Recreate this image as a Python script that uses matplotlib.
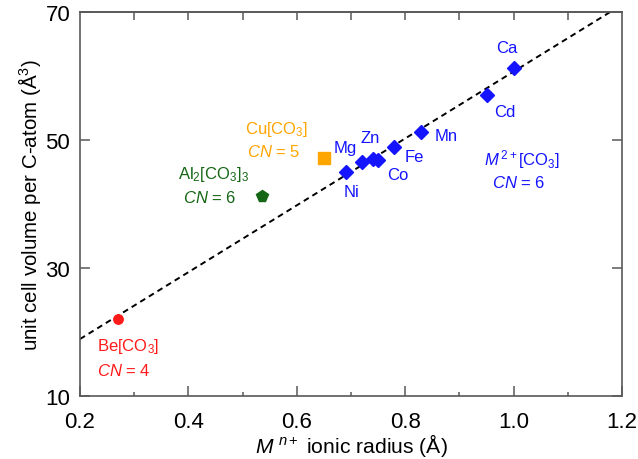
import numpy as np
import matplotlib
matplotlib.use("Agg")
import matplotlib.pyplot as plt

plt.rcParams['font.family'] = ['Liberation Sans', 'DejaVu Sans']
plt.rcParams['mathtext.fontset'] = 'custom'
plt.rcParams['mathtext.rm'] = 'Liberation Sans'
plt.rcParams['mathtext.it'] = 'Liberation Sans:italic'

# M2+[CO3], CN = 6
m2_names = ["Ni", "Mg", "Zn", "Co", "Fe", "Mn", "Cd", "Ca"]
m2_radius = [0.69, 0.72, 0.74, 0.75, 0.78, 0.83, 0.95, 1.00]
m2_volume = [45.0, 46.6, 47.1, 46.9, 48.9, 51.3, 57.0, 61.3]

cu_radius = [0.65]
cu_volume = [47.2]
al_radius = [0.535]
al_volume = [41.2]
be_radius = [0.27]
be_volume = [22.0]

# dashed trend line (end points)
fit_x = [0.2, 1.178]
fit_y = [18.9, 70.0]

blue = "#1414ff"
orange = "#ffa500"
green = "#156615"
red = "#ff1a1a"
spine_c = "#595959"

fig = plt.figure(figsize=(6.38, 4.60), dpi=100)
ax = fig.add_axes([0.1254, 0.137, 0.8496, 0.8346])

ax.plot(fit_x, fit_y, color="black", ls=(0, (3, 2.2)), lw=1.4, zorder=1)
ax.plot(m2_radius, m2_volume, "D", color=blue, ms=7.5, mec=blue, zorder=3)
ax.plot(cu_radius, cu_volume, "s", color=orange, ms=8.2, zorder=3)
ax.plot(al_radius, al_volume, "p", color=green, ms=8.5, zorder=3)
ax.plot(be_radius, be_volume, "o", color=red, ms=6.8, zorder=3)

fs = 12
lab_pos = {"Ca": (0.987, 64.5), "Cd": (0.984, 54.4), "Mn": (0.875, 50.7),
           "Fe": (0.817, 47.5), "Co": (0.786, 44.6), "Ni": (0.701, 42.0),
           "Mg": (0.690, 48.8), "Zn": (0.735, 50.4)}
for n in m2_names:
    ax.text(*lab_pos[n], n, color=blue, fontsize=fs, ha="center", va="center")

ax.text(1.016, 47.1, r"$M^{\,2+}$[CO$_3$]", color=blue, fontsize=fs, ha="center", va="center")
ax.text(1.010, 43.4, r"$\mathit{CN}$ = 6", color=blue, fontsize=fs, ha="center", va="center")
ax.text(0.562, 51.8, r"Cu[CO$_3$]", color=orange, fontsize=fs, ha="center", va="center")
ax.text(0.558, 48.3, r"$\mathit{CN}$ = 5", color=orange, fontsize=fs, ha="center", va="center")
ax.text(0.446, 44.8, r"Al$_2$[CO$_3$]$_3$", color=green, fontsize=fs, ha="center", va="center")
ax.text(0.440, 41.05, r"$\mathit{CN}$ = 6", color=green, fontsize=fs, ha="center", va="center")
ax.text(0.289, 17.9, r"Be[CO$_3$]", color=red, fontsize=fs, ha="center", va="center")
ax.text(0.281, 14.0, r"$\mathit{CN}$ = 4", color=red, fontsize=fs, ha="center", va="center")

ax.set_xlim(0.2, 1.2)
ax.set_ylim(10, 70)
ax.set_xticks(np.arange(0.2, 1.21, 0.2))
ax.set_xticks(np.arange(0.3, 1.2, 0.2), minor=True)
ax.set_xticklabels(["0.2", "0.4", "0.6", "0.8", "1.0", "1.2"])
ax.set_yticks([10, 30, 50, 70])

for s in ax.spines.values():
    s.set_color(spine_c)
    s.set_linewidth(1.2)

ax.tick_params(which="both", direction="in", color=spine_c, width=1.1,
               labelsize=16, right=True, top=False)
ax.tick_params(axis="x", which="major", length=7, pad=11)
ax.tick_params(axis="x", which="minor", length=3.2)
ax.tick_params(axis="y", which="major", length=7, pad=7)

top = ax.secondary_xaxis("top")
top.set_xticks(np.arange(0.3, 1.2, 0.1))
top.tick_params(direction="in", length=5.8, width=1.1, color=spine_c, labeltop=False)
top.spines["top"].set_color(spine_c)
top.spines["top"].set_linewidth(1.2)

ax.set_xlabel(r"$M^{\ n+}$ ionic radius (Å)", fontsize=15.2, labelpad=-1)
ax.set_ylabel(r"unit cell volume per C-atom (Å$^3$)", fontsize=14.8, labelpad=2)

fig.savefig("out.png", dpi=100)
